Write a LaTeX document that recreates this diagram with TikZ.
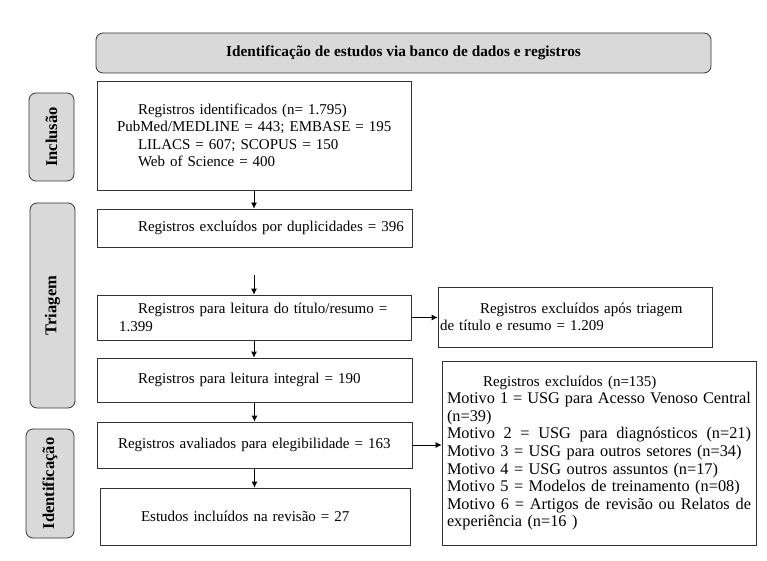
\documentclass[tikz,border=0pt]{standalone}
\usepackage{fontspec}
\setmainfont{Liberation Serif}
\usetikzlibrary{arrows.meta,calc}
\newcommand\jl[1]{\leavevmode\hbox to 304pt{\spaceskip=0.25em plus 1fil\relax #1}}
\begin{document}
\begin{tikzpicture}[x=1pt,y=-1pt,
  every node/.style={font=\fontsize{15}{17.4}\selectfont},
  box/.style={draw=black!80, line width=0.8pt, rectangle, inner xsep=0pt, inner ysep=0pt, align=left},
  side/.style={draw=black!80, line width=0.8pt, fill=black!15, rounded corners=7pt, rotate=90, inner sep=0pt,
    font=\fontsize{16.5}{18}\selectfont\bfseries},
  hdr/.style={draw=black!80, line width=0.8pt, fill=black!15, rounded corners=7pt, inner sep=0pt,
    font=\fontsize{15.3}{17}\selectfont\bfseries},
  arr/.style={draw=black, line width=0.8pt, -{Latex[length=6pt,width=6pt]}}]
\useasboundingbox (0,0) rectangle (767,561);

\node[hdr, minimum width=615pt, minimum height=40pt] (hdr) at (403.5,53) {Identificação de estudos via banco de dados e registros};

\node[side, minimum width=88pt, minimum height=45pt] (sinc) at (51.5,137) {Inclusão};
\node[side, minimum width=205pt, minimum height=45pt] (stri) at (52.5,305.5) {Triagem};
\node[side, minimum width=109pt, minimum height=48pt] (sid) at (50,483.5) {Identificação};

\node[box, text width=314pt, minimum height=109pt] (b1) at (254,135.5) {%
\hspace*{41pt}Registros identificados (n= 1.795)\\
\hspace*{20pt}PubMed/MEDLINE = 443; EMBASE = 195\\
\hspace*{41pt}LILACS = 607; SCOPUS = 150\\
\hspace*{41pt}Web of Science = 400};

\node[box, text width=315pt, minimum height=38pt] (dup) at (254.5,228) {%
\hspace*{41pt}Registros excluídos por duplicidades = 396};

\coordinate (fa) at (254,275);

\node[box, text width=314pt, minimum height=45pt] (tit) at (254,317.5) {%
\hspace*{41pt}Registros para leitura do título/resumo =\\
\hspace*{22pt}1.399};

\node[box, text width=315pt, minimum height=44pt] (int) at (254.5,380) {%
\hspace*{41pt}Registros para leitura integral = 190};

\node[box, text width=315pt, minimum height=46pt] (ele) at (254.5,445) {%
\hspace*{21pt}Registros avaliados para elegibilidade = 163};

\node[box, text width=310pt, minimum height=57pt] (est) at (255,516.5) {%
\hspace*{41pt}Estudos incluídos na revisão = 27};

\node[box, text width=274pt, minimum height=60pt] (ex1) at (575,317) {%
\hspace*{42pt}Registros excluídos após triagem\\
\hspace*{2pt}de título e resumo = 1.209};

\node[box, text width=304pt, minimum height=184pt, minimum width=314pt,
      font=\fontsize{16.3}{17.6}\selectfont] (ex2) at (599,453) {%
\hspace*{36pt}{\fontsize{15}{17.6}\selectfont Registros excluídos (n=135)}\\
\jl{Motivo 1 = USG para Acesso Venoso Central}\\
(n=39)\\
\jl{Motivo 2 = USG para diagnósticos (n=21)}\\
Motivo 3 = USG para outros setores (n=34)\\
Motivo 4 = USG outros assuntos (n=17)\\
Motivo 5 = Modelos de treinamento (n=08)\\
\jl{Motivo 6 = Artigos de revisão ou Relatos de}\\
experiência (n=16 )};

\draw[arr] (b1.south) -- (b1.south |- dup.north);
\draw[arr] (fa) -- (fa |- tit.north);
\draw[arr] (tit.south) -- (tit.south |- int.north);
\draw[arr] (int.south) -- (int.south |- ele.north);
\draw[arr] (ele.south) -- (ele.south |- est.north);
\draw[arr] (tit.east) -- (tit.east -| ex1.west);
\draw[arr] (ele.east) -- (ele.east -| ex2.west);
\end{tikzpicture}
\end{document}
